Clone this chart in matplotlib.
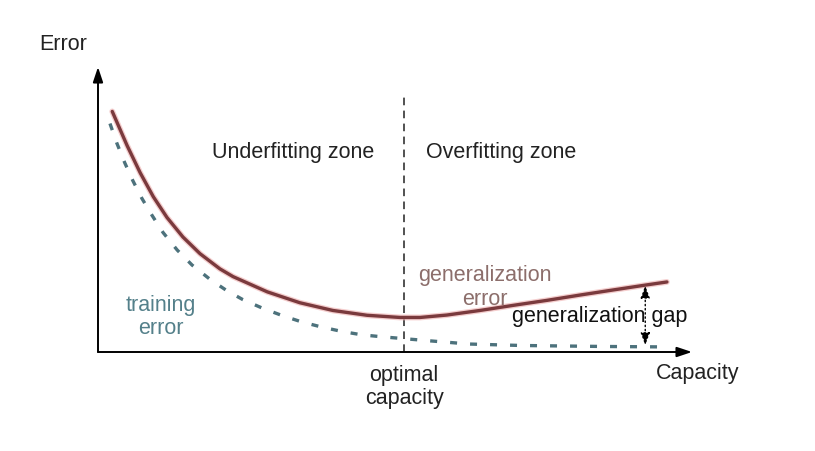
import matplotlib
matplotlib.use("Agg")
import matplotlib.pyplot as plt

plt.rcParams['font.family'] = ['Liberation Sans', 'DejaVu Sans']

# Capacity (x) and error (y) values
gen_capacity = [0.25, 0.51, 0.74, 0.97, 1.21, 1.49, 1.79, 2.14, 2.37, 2.97,
                3.54, 4.12, 4.72, 5.30, 5.65, 6.12, 6.70, 7.28, 7.88, 8.46,
                9.04, 9.63, 9.98]
gen_error = [9.96, 8.55, 7.42, 6.43, 5.57, 4.76, 4.07, 3.44, 3.12, 2.49,
             2.04, 1.72, 1.52, 1.43, 1.43, 1.53, 1.72, 1.93, 2.14, 2.36,
             2.57, 2.78, 2.90]

train_capacity = [0.21, 0.33, 0.47, 0.61, 0.77, 0.95, 1.14, 1.39, 1.65, 1.97,
                  2.26, 2.54, 2.88, 3.23, 3.58, 3.93, 4.28, 4.63, 4.98, 5.33,
                  5.83, 6.51, 7.42, 8.81, 9.98]
train_error = [9.46, 8.65, 7.83, 7.10, 6.36, 5.65, 4.95, 4.22, 3.60, 3.00,
               2.54, 2.17, 1.82, 1.51, 1.24, 1.03, 0.85, 0.71, 0.63, 0.56,
               0.46, 0.33, 0.27, 0.23, 0.21]

optimal_capacity = 5.37
gap_capacity = 9.60
x_max = 10.42
y_max = 11.8
divider_top = 10.7

W, H = 815, 452
fig = plt.figure(figsize=(W / 100, H / 100), dpi=100)
fig.patch.set_facecolor('white')
ax = fig.add_axes([98 / W, (H - 353) / H, (692 - 98) / W, (353 - 68) / H])
ax.set_xlim(0, x_max)
ax.set_ylim(0, y_max)
ax.axis('off')

# axes with arrows
ax.annotate('', xy=(0, y_max), xytext=(0, 0),
            arrowprops=dict(arrowstyle='-|>,head_length=0.9,head_width=0.3',
                            color='black', lw=1.4, shrinkA=0, shrinkB=0),
            annotation_clip=False)
ax.annotate('', xy=(x_max, 0), xytext=(0, 0),
            arrowprops=dict(arrowstyle='-|>,head_length=0.9,head_width=0.3',
                            color='black', lw=1.4, shrinkA=0, shrinkB=0),
            annotation_clip=False)

# optimal capacity divider
ax.plot([optimal_capacity, optimal_capacity], [0, divider_top], color='#222222',
        lw=1.1, linestyle=(0, (5, 3.5)))

# curves
ax.plot(gen_capacity, gen_error, color='#f0b8b8', lw=4.2, solid_capstyle='round',
        solid_joinstyle='round', alpha=0.7)
ax.plot(gen_capacity, gen_error, color='#7a3a3d', lw=2.4, solid_capstyle='round',
        solid_joinstyle='round')
ax.plot(train_capacity, train_error, color='#4d727c', lw=2.4,
        linestyle=(0, (2.1, 3.9)), solid_capstyle='butt')

# generalization gap arrow
gap_top = 2.75
ax.annotate('', xy=(gap_capacity, gap_top), xytext=(gap_capacity, 0.28),
            arrowprops=dict(arrowstyle='<|-|>,head_length=0.75,head_width=0.28',
                            color='black', lw=1.0, linestyle=(0, (1, 2)),
                            shrinkA=0, shrinkB=0))

fs = 15.5
ax.text(-0.61, 12.78, 'Error', fontsize=fs, ha='center', va='center', color='#222222', clip_on=False)
ax.text(3.43, 8.3, 'Underfitting zone', fontsize=fs, ha='center', va='center', color='#222222')
ax.text(7.08, 8.3, 'Overfitting zone', fontsize=fs, ha='center', va='center', color='#222222')
ax.text(6.79, 2.72, 'generalization\nerror', fontsize=fs, ha='center', va='center',
        color='#8c6e6b', linespacing=1.15)
ax.text(1.10, 1.50, 'training\nerror', fontsize=fs, ha='center', va='center',
        color='#54808a', linespacing=1.15)
ax.text(8.80, 1.53, 'generalization gap', fontsize=fs, ha='center', va='center', color='#111111')
ax.text(optimal_capacity, -1.4, 'optimal\ncapacity', fontsize=fs, ha='center', va='center',
        color='#222222', linespacing=1.1, clip_on=False)
ax.text(10.51, -0.85, 'Capacity', fontsize=fs, ha='center', va='center', color='#222222', clip_on=False)

fig.savefig('out.png', dpi=100, facecolor='white')
